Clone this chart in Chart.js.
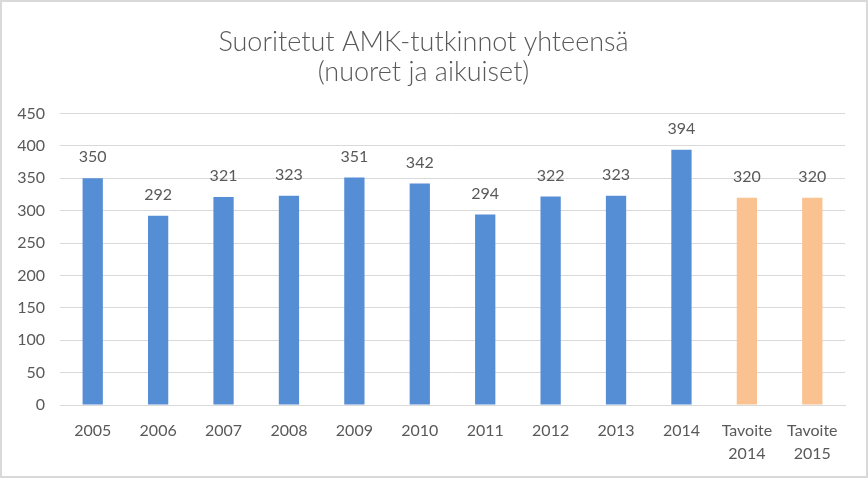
<!DOCTYPE html>
<html lang="fi">
<head>
  <meta charset="UTF-8">
  <title>Suoritetut AMK-tutkinnot</title>
  <script src="https://cdn.jsdelivr.net/npm/chart.js"></script>
  <style>
    html, body { margin: 0; padding: 0; background: #fff; }
    #wrap {
      width: 868px; height: 478px; box-sizing: border-box;
      border: 2px solid #d9d9d9; background: #fff;
    }
    #wrap canvas { display: block; }
  </style>
</head>
<body>
  <div id="wrap"><canvas id="amkChart" width="864" height="474"></canvas></div>

  <script>
    // chart data
    const categories = ['2005', '2006', '2007', '2008', '2009', '2010', '2011', '2012', '2013', '2014',
      ['Tavoite', '2014'], ['Tavoite', '2015']];
    const degrees = [350, 292, 321, 323, 351, 342, 294, 322, 323, 394, 320, 320];
    const isTarget = [false, false, false, false, false, false, false, false, false, false, true, true];
    const yTicks = [0, 50, 100, 150, 200, 250, 300, 350, 400, 450];

    const textColor = '#595959';
    const fontFamily = 'Lato, "Open Sans", sans-serif';

    // value labels above the bars
    const valueLabels = {
      id: 'valueLabels',
      afterDatasetsDraw(chart) {
        const ctx = chart.ctx;
        const meta = chart.getDatasetMeta(0);
        ctx.save();
        ctx.fillStyle = textColor;
        ctx.font = '16px ' + fontFamily;
        ctx.textAlign = 'center';
        ctx.textBaseline = 'middle';
        meta.data.forEach((bar, i) => {
          ctx.fillText(degrees[i], bar.x, bar.y - 21);
        });
        ctx.restore();
      }
    };

    const ctx = document.getElementById('amkChart').getContext('2d');
    new Chart(ctx, {
      type: 'bar',
      data: {
        labels: categories,
        datasets: [{
          data: degrees,
          backgroundColor: isTarget.map(t => t ? '#FAC191' : '#558ED5'),
          barPercentage: 1,
          categoryPercentage: 0.31
        }]
      },
      options: {
        responsive: false,
        animation: false,
        layout: { padding: { left: 0, right: 21, top: 0, bottom: 0 } },
        plugins: {
          legend: { display: false },
          tooltip: { enabled: false },
          title: {
            display: true,
            text: ['Suoritetut AMK-tutkinnot yhteensä', '(nuoret ja aikuiset)'],
            color: textColor,
            font: { family: fontFamily, size: 27, weight: '300', lineHeight: 1.12 },
            padding: { top: 25, bottom: 26 }
          }
        },
        scales: {
          x: {
            grid: { display: false, drawTicks: false },
            border: { color: '#d9d9d9', width: 1 },
            ticks: {
              color: textColor,
              font: { family: fontFamily, size: 16, lineHeight: 1.45 },
              padding: 14,
              maxRotation: 0,
              autoSkip: false
            },
            afterFit(scale) { scale.height = 71; }
          },
          y: {
            min: 0,
            max: 450,
            afterBuildTicks(scale) { scale.ticks = yTicks.map(v => ({ value: v })); },
            grid: { color: '#d9d9d9', drawTicks: false },
            border: { display: false },
            ticks: {
              color: textColor,
              font: { family: fontFamily, size: 16 },
              padding: 15
            },
            afterFit(scale) { scale.width = 58; }
          }
        }
      },
      plugins: [valueLabels]
    });
  </script>
</body>
</html>
